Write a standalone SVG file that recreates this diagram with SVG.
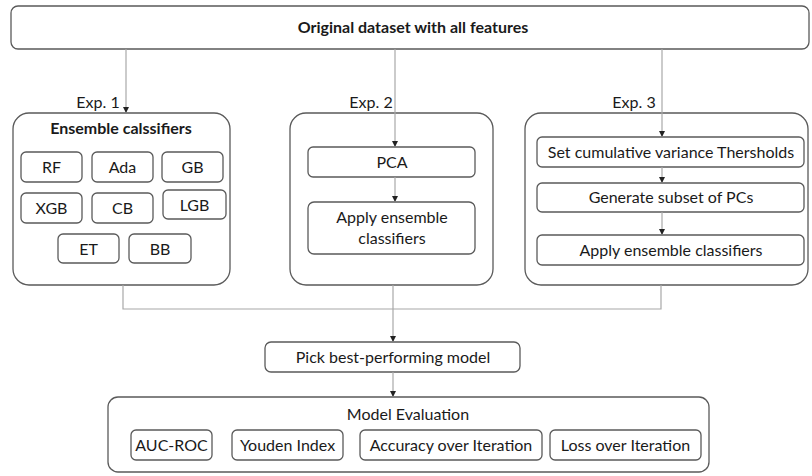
<svg xmlns="http://www.w3.org/2000/svg" width="812" height="476" viewBox="0 0 812 476">
<defs>
<marker id="ah" viewBox="0 0 6 6" refX="6" refY="3" markerWidth="6" markerHeight="6" orient="auto" markerUnits="userSpaceOnUse">
<path d="M0,0 L6,3 L0,6 z" fill="#222"/>
</marker>
<style>
.box{fill:#fff;stroke:#5a5a5a;stroke-width:1.3}
.conn{fill:none;stroke:#a8a8a8;stroke-width:1.2}
.t{font-family:Lato,"Liberation Sans",sans-serif;font-size:16px;fill:#1a1a1a;text-anchor:middle}
.b{font-weight:bold}
</style>
</defs>
<rect width="812" height="476" fill="#fff"/>
<g id="top">
<rect class="box" x="11" y="6" width="798" height="43" rx="7"/>
<text class="t b" x="413" y="33">Original dataset with all features</text>
</g>
<g id="exp1">
<text class="t" x="98" y="108">Exp. 1</text>
<rect class="box" x="13" y="113" width="217" height="172" rx="16"/>
<text class="t b" x="121" y="134">Ensemble calssifiers</text>
</g>
<g id="rf"><rect class="box" x="21" y="152" width="61" height="30" rx="5"/><text class="t" x="51.5" y="173">RF</text></g>
<g id="ada"><rect class="box" x="92" y="152" width="61" height="30" rx="5"/><text class="t" x="122.5" y="173">Ada</text></g>
<g id="gb"><rect class="box" x="162" y="152" width="61" height="30" rx="5"/><text class="t" x="192.5" y="173">GB</text></g>
<g id="xgb"><rect class="box" x="21" y="193" width="61" height="30" rx="5"/><text class="t" x="51.5" y="214">XGB</text></g>
<g id="cb"><rect class="box" x="92" y="193" width="61" height="30" rx="5"/><text class="t" x="122.5" y="214">CB</text></g>
<g id="lgb"><rect class="box" x="163" y="190" width="63" height="29" rx="5"/><text class="t" x="194.5" y="211">LGB</text></g>
<g id="et"><rect class="box" x="58" y="234" width="61" height="29" rx="5"/><text class="t" x="88.5" y="255">ET</text></g>
<g id="bb"><rect class="box" x="129" y="234" width="62" height="29" rx="5"/><text class="t" x="160" y="255">BB</text></g>
<g id="exp2">
<text class="t" x="371" y="108">Exp. 2</text>
<rect class="box" x="290" y="113" width="203" height="172" rx="16"/>
</g>
<g id="pca"><rect class="box" x="308" y="147" width="167" height="30" rx="5"/><text class="t" x="392" y="168">PCA</text></g>
<g id="apply2"><rect class="box" x="308" y="202" width="167" height="52" rx="6"/><text class="t" x="392" y="223">Apply ensemble</text><text class="t" x="392" y="244">classifiers</text></g>
<g id="exp3">
<text class="t" x="634" y="108">Exp. 3</text>
<rect class="box" x="525" y="113" width="283" height="172" rx="16"/>
</g>
<g id="thresh"><rect class="box" x="537" y="137" width="267" height="30" rx="5"/><text class="t" x="671" y="158">Set cumulative variance Thersholds</text></g>
<g id="subset"><rect class="box" x="537" y="183" width="267" height="29" rx="5"/><text class="t" x="671" y="203">Generate subset of PCs</text></g>
<g id="apply3"><rect class="box" x="537" y="235" width="267" height="30" rx="5"/><text class="t" x="671" y="256">Apply ensemble classifiers</text></g>
<g id="pick"><rect class="box" x="265" y="342" width="255" height="30" rx="6"/><text class="t" x="393" y="363">Pick best-performing model</text></g>
<g id="eval">
<rect class="box" x="108" y="397" width="601" height="75" rx="10"/>
<text class="t" x="408" y="420">Model Evaluation</text>
</g>
<g id="auc"><rect class="box" x="131" y="430" width="81" height="30" rx="5"/><text class="t" x="171.5" y="451">AUC-ROC</text></g>
<g id="youden"><rect class="box" x="232" y="430" width="111" height="30" rx="5"/><text class="t" x="287.5" y="451">Youden Index</text></g>
<g id="acc"><rect class="box" x="360" y="430" width="182" height="30" rx="5"/><text class="t" x="451" y="451">Accuracy over Iteration</text></g>
<g id="loss"><rect class="box" x="550" y="430" width="151" height="30" rx="5"/><text class="t" x="625.5" y="451">Loss over Iteration</text></g>
<g id="connectors">
<path class="conn" d="M126,49 V113" marker-end="url(#ah)"/>
<path class="conn" d="M395,49 V147" marker-end="url(#ah)"/>
<path class="conn" d="M662,49 V137" marker-end="url(#ah)"/>
<path class="conn" d="M395,177 V202" marker-end="url(#ah)"/>
<path class="conn" d="M662,167 V183" marker-end="url(#ah)"/>
<path class="conn" d="M662,212 V235" marker-end="url(#ah)"/>
<path class="conn" d="M123,285 V309 H661 V285"/>
<path class="conn" d="M393,285 V342" marker-end="url(#ah)"/>
<path class="conn" d="M393,372 V397" marker-end="url(#ah)"/>
</g>
</svg>
